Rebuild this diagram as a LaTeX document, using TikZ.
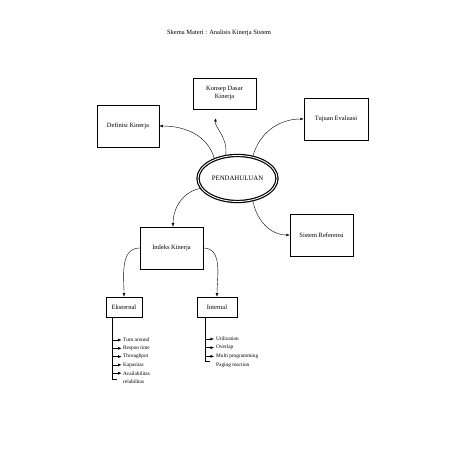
\documentclass[tikz,border=0pt]{standalone}
\usepackage{fontspec}
\setmainfont{Liberation Serif}
\usetikzlibrary{arrows.meta,positioning,shapes.geometric}

\begin{document}
\begin{tikzpicture}[
    x=1pt, y=1pt,
    box/.style={rectangle, draw=black, line width=0.5pt, align=center,
                inner sep=1pt, font=\fontsize{6.5}{8}\selectfont},
    bubble/.style={ellipse, draw=black, double, line width=1.2pt, double distance=0.9pt,
                   minimum width=79pt, minimum height=46pt, inner sep=0pt,
                   font=\fontsize{6.8}{8}\selectfont},
    item/.style={anchor=west, inner sep=0pt, font=\fontsize{5.3}{6}\selectfont},
    link/.style={-{Latex[length=3.5pt,width=2.6pt]}, line width=0.4pt},
    pointer/.style={-{Latex[length=3.5pt,width=3pt]}, line width=0.4pt},
    every node/.style={font=\fontsize{6.5}{8}\selectfont}
]
\useasboundingbox (0,0) rectangle (452,452);

\node (judul) at (219,419) {Skema Materi : Analisis Kinerja Sistem};

\node[box, minimum width=63pt, minimum height=31pt] (konsep) at (224.5,358.5) {Konsep Dasar\\Kinerja};
\node[box, minimum width=62pt, minimum height=42pt] (definisi) at (128,326) {Definisi Kinerja};
\node[box, minimum width=64pt, minimum height=42pt] (tujuan) at (336,333) {Tujuan Evaluasi};
\node[bubble] (pend) at (237.5,273.5) {PENDAHULUAN};
\node[box, minimum width=63pt, minimum height=42pt] (sistem) at (321.5,217) {Sistem Referensi};
\node[box, minimum width=63pt, minimum height=42pt] (indeks) at (171.5,204) {Indeks Kinerja};
\node[box, minimum width=36pt, minimum height=20pt] (eksternal) at (124,145) {Eksternal};
\node[box, minimum width=40pt, minimum height=20pt] (internal) at (217,145) {Internal};

\draw[link] (pend.140) to[out=105,in=0] (definisi.east);
\draw[link, shorten >=9pt] (pend.118) to[out=80,in=-100] ([xshift=-7pt]konsep.south);
\draw[link] (pend.55) to[out=75,in=180] (tujuan.west);
\draw[link] (pend.-55) to[out=-80,in=180] (sistem.west);
\draw[link] (pend.195) to[out=190,in=90] ([xshift=1.5pt]indeks.north);
\draw[link] (indeks.west) to[out=180,in=90] (eksternal.north);
\draw[link] (indeks.east) to[out=0,in=90] (internal.north);

% daftar eksternal
\node[item] (ek1) at (123,112) {Turn around};
\node[item] (ek2) at (123,103.7) {Respon time};
\node[item] (ek3) at (123,95.4) {Throughput};
\node[item] (ek4) at (123,87.1) {Kapasitas};
\node[item] (ek5) at (123,78.8) {Availabilitas};
\node[item] (ek6) at (123,70.5) {relabilitas};
\coordinate (ekspine) at (112,135);
\coordinate (ekend) at (112,72.5);
\draw[line width=0.4pt] (ekspine) -- (ekend) -- ++(5,0);
\foreach \i in {1,...,5}
    \draw[pointer] (ekspine |- ek\i.west) -- ([xshift=-1.5pt]ek\i.west);

% daftar internal
\node[item] (in1) at (216,113) {Utilization};
\node[item] (in2) at (216,104.3) {Overlap};
\node[item] (in3) at (216,95.7) {Multi programming};
\node[item] (in4) at (216,87) {Paging reaction};
\coordinate (inspine) at (205,135);
\coordinate (inend) at (205,91);
\draw[line width=0.4pt] (inspine) -- (inend) -- ++(5,0);
\foreach \i in {1,...,3}
    \draw[pointer] (inspine |- in\i.west) -- ([xshift=-2pt]in\i.west);

\end{tikzpicture}
\end{document}
